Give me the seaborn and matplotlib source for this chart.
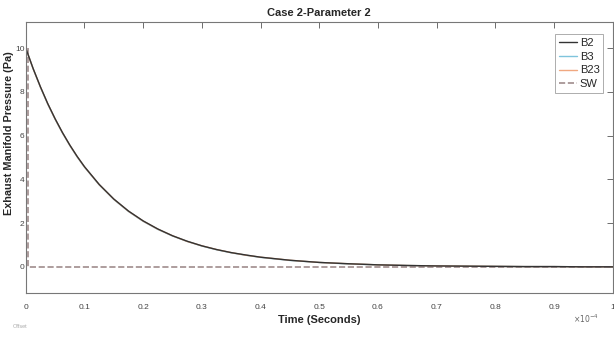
import numpy as np
import pandas as pd
import matplotlib
matplotlib.use("Agg")
import matplotlib.pyplot as plt
import seaborn as sns

# time axis in units of 1e-4 s
time = [0, 0.0125, 0.025, 0.0375, 0.05, 0.0625, 0.075, 0.0875, 0.1, 0.125, 0.15,
        0.175, 0.2, 0.225, 0.25, 0.275, 0.3, 0.325, 0.35, 0.375, 0.4, 0.45, 0.5,
        0.55, 0.6, 0.65, 0.7, 0.75, 0.8, 0.85, 0.9, 0.95, 1.0]
b2 = [10.0, 9.07, 8.23, 7.46, 6.77, 6.14, 5.57, 5.05, 4.58, 3.77, 3.10,
      2.55, 2.10, 1.73, 1.42, 1.17, 0.96, 0.79, 0.65, 0.54, 0.44, 0.30, 0.20,
      0.14, 0.09, 0.06, 0.04, 0.03, 0.02, 0.01, 0.01, 0.0, 0.0]
b3 = [10.0, 9.06, 8.21, 7.44, 6.75, 6.12, 5.55, 5.03, 4.56, 3.75, 3.08,
      2.53, 2.08, 1.71, 1.41, 1.16, 0.95, 0.78, 0.64, 0.53, 0.43, 0.29, 0.20,
      0.13, 0.09, 0.06, 0.04, 0.03, 0.02, 0.01, 0.01, 0.0, 0.0]
b23 = [10.0, 9.06, 8.22, 7.45, 6.76, 6.13, 5.56, 5.04, 4.57, 3.76, 3.09,
       2.54, 2.09, 1.72, 1.42, 1.16, 0.96, 0.79, 0.65, 0.53, 0.44, 0.30, 0.20,
       0.14, 0.09, 0.06, 0.04, 0.03, 0.02, 0.01, 0.01, 0.0, 0.0]
sw_time = [0.004, 0.004, 1.0]
sw = [10.0, 0.0, 0.0]

sns.set_style("white")
plt.rcParams['font.family'] = ['Liberation Sans', 'DejaVu Sans']

fig = plt.figure(figsize=(6.14, 3.38), dpi=100)
ax = fig.add_axes([0.042, 0.133, 0.956, 0.802])

sns.lineplot(x=time, y=b3, color="#7fc4dc", linewidth=1.0, ax=ax, label="B3")
sns.lineplot(x=time, y=b23, color="#f0a880", linewidth=1.0, ax=ax, label="B23")
sns.lineplot(x=sw_time, y=sw, color="#a08c8c", linewidth=1.2, linestyle="--",
             estimator=None, sort=False, ax=ax, label="SW")
sns.lineplot(x=time, y=b2, color="#333333", linewidth=1.0, ax=ax, label="B2")

ax.set_xlim(0, 1)
ax.set_ylim(-1.2, 11.2)
ax.set_xticks(np.arange(0, 1.01, 0.1))
ax.set_xticklabels(["0", "0.1", "0.2", "0.3", "0.4", "0.5", "0.6", "0.7", "0.8", "0.9", "1"])
ax.set_yticks([0, 2, 4, 6, 8, 10])
ax.tick_params(direction="in", length=4, width=0.6, colors="#555555", labelsize=6,
               top=True, right=True, labelcolor="#444444")
ax.tick_params(axis="x", pad=8)
ax.tick_params(axis="y", pad=1)
for s in ax.spines.values():
    s.set_color("#777777")
    s.set_linewidth(0.8)

ax.set_title("Case 2-Parameter 2", fontsize=8, fontweight="bold", pad=4)
ax.set_xlabel("Time (Seconds)", fontsize=8, fontweight="bold", labelpad=3)
ax.set_ylabel("Exhaust Manifold Pressure (Pa)", fontsize=7.8, fontweight="bold")
ax.yaxis.set_label_coords(-0.02, 0.59)

fig.text(0.975, 0.045, r"$\times10^{-4}$", fontsize=5.5, color="#666666", ha="right")
fig.text(0.02, 0.03, "Offset", fontsize=4, color="#aaaaaa")

h, l = ax.get_legend_handles_labels()
order = [3, 0, 1, 2]
leg = ax.legend([h[i] for i in order], [l[i] for i in order], loc="upper right",
                fontsize=8, frameon=True, fancybox=False, handlelength=1.6,
                handletextpad=0.3, borderpad=0.3, labelspacing=0.35,
                bbox_to_anchor=(0.993, 0.975))
leg.get_frame().set_edgecolor("#888888")
leg.get_frame().set_linewidth(0.6)

fig.savefig("out.png", dpi=100)
